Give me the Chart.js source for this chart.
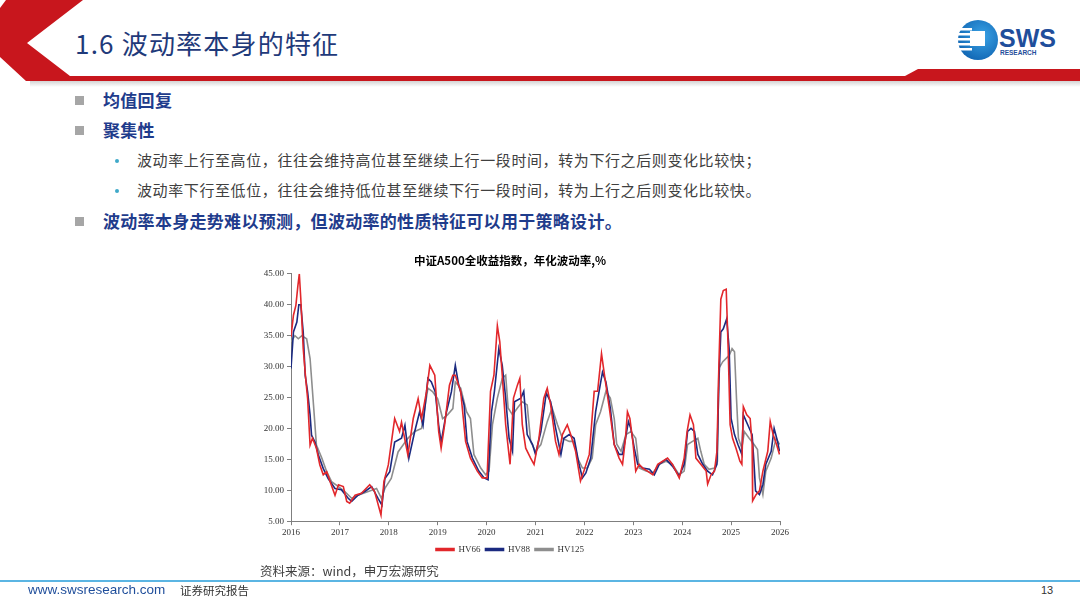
<!DOCTYPE html>
<html>
<head>
<meta charset="utf-8">
<script src="https://cdn.jsdelivr.net/npm/chart.js@4.4.1/dist/chart.umd.min.js"></script>
<style>
  html, body { margin: 0; padding: 0; background: #fff; }
  body { width: 1080px; height: 608px; position: relative; overflow: hidden; font-family: "Noto Sans CJK SC", "Noto Sans", sans-serif; }
  .abs { position: absolute; white-space: nowrap; }
  #title { left: 75px; top: 24px; font-size: 26px; color: #1F3A7A; letter-spacing: 1.2px; }
  .b1 { left: 103px; font-size: 17px; font-weight: bold; color: #1F3C8C; letter-spacing: 0.3px; }
  .sq { width: 9px; height: 9px; background: #A6A6A6; left: 75px; }
  .b2 { left: 137px; font-size: 15px; color: #404040; letter-spacing: 0.6px; }
  .dot { width: 4px; height: 4px; border-radius: 2px; background: #3FA9C9; left: 115px; }
  #chartbox { position: absolute; left: 240px; top: 248px; width: 578px; height: 316px; }
  #source { left: 260px; top: 561px; font-size: 12.5px; color: #404040; }
  #footline { left: 0; top: 580px; width: 1080px; height: 2px; background: #5BB5E3; }
  #url { left: 28px; top: 582px; font-family: "Liberation Sans", Arial, sans-serif; font-size: 13.5px; color: #1F4E9B; }
  #rep { left: 180px; top: 582px; font-size: 11.5px; color: #333; }
  #page { left: 1041px; top: 584px; font-family: "Liberation Sans", Arial, sans-serif; font-size: 11px; color: #333; }
</style>
</head>
<body>
<svg class="abs" style="left:0;top:0" width="1080" height="92">
  <defs>
    <linearGradient id="shade" x1="0" y1="0" x2="0" y2="1">
      <stop offset="0" stop-color="#d4d4d4"/>
      <stop offset="1" stop-color="#ffffff"/>
    </linearGradient>
    <radialGradient id="ball" cx="0.6" cy="0.4" r="0.7">
      <stop offset="0" stop-color="#3AA3E6"/>
      <stop offset="1" stop-color="#0E62B0"/>
    </radialGradient>
  </defs>
  <rect x="30" y="81" width="1050" height="6" fill="url(#shade)"/>
  <polygon points="0,8 6,0 83,0 27,43 70,76 1080,76 1080,81 26,81 0,57" fill="#C8161D"/>
  <polygon points="918,69 1080,69 1080,81 905,81 905,76" fill="#C8161D"/>
  <circle cx="978" cy="40" r="20" fill="url(#ball)"/>
  <rect x="958" y="28" width="14" height="2.5" fill="#fff"/>
  <rect x="958" y="33" width="14" height="2.5" fill="#fff"/>
  <rect x="958" y="38" width="14" height="2.5" fill="#fff"/>
  <rect x="958" y="43" width="14" height="2.5" fill="#fff"/>
  <rect x="958" y="48" width="14" height="2.5" fill="#fff"/>
  <rect x="970" y="31" width="15" height="15" fill="#fff"/>
  <text x="999" y="47" font-family="Liberation Sans, Arial, sans-serif" font-weight="bold" font-size="25" fill="#1F4E9B">SWS</text>
  <text x="1000" y="55" font-family="Liberation Sans, Arial, sans-serif" font-weight="bold" font-size="6.5" fill="#1F4E9B">RESEARCH</text>
</svg>
<div id="title" class="abs">1.6 波动率本身的特征</div>

<div class="abs sq" style="top:96px"></div>
<div class="abs b1" style="top:87px">均值回复</div>
<div class="abs sq" style="top:126px"></div>
<div class="abs b1" style="top:117px">聚集性</div>
<div class="abs dot" style="top:159px"></div>
<div class="abs b2" style="top:149px">波动率上行至高位，往往会维持高位甚至继续上行一段时间，转为下行之后则变化比较快；</div>
<div class="abs dot" style="top:189px"></div>
<div class="abs b2" style="top:179px">波动率下行至低位，往往会维持低位甚至继续下行一段时间，转为上行之后则变化比较快。</div>
<div class="abs sq" style="top:217px"></div>
<div class="abs b1" style="top:208px">波动率本身走势难以预测，但波动率的性质特征可以用于策略设计。</div>

<div id="chartbox"><canvas id="volchart"></canvas></div>

<div id="source" class="abs">资料来源：wind，申万宏源研究</div>
<div id="footline" class="abs"></div>
<div id="url" class="abs">www.swsresearch.com</div>
<div id="rep" class="abs">证券研究报告</div>
<div id="page" class="abs">13</div>

<script>
// 年化波动率，[年份, 数值]
const hv66 = [
  [2016.00, 34.8], [2016.05, 38.3], [2016.10, 39.9], [2016.14, 43.0], [2016.17, 45.0], [2016.20, 41.0],
  [2016.25, 32.9], [2016.30, 28.1], [2016.34, 24.8], [2016.39, 17.3], [2016.44, 18.4], [2016.52, 16.8],
  [2016.59, 14.1], [2016.66, 12.5], [2016.73, 13.0], [2016.80, 11.4], [2016.90, 9.2], [2016.97, 10.9],
  [2017.07, 10.6], [2017.14, 8.2], [2017.20, 7.9], [2017.31, 9.2], [2017.44, 9.5], [2017.61, 10.9],
  [2017.71, 9.8], [2017.84, 6.0], [2017.90, 11.4], [2017.99, 14.1], [2018.12, 21.6], [2018.22, 19.5],
  [2018.26, 21.0], [2018.39, 15.7], [2018.50, 21.6], [2018.60, 24.8], [2018.67, 21.6], [2018.77, 25.9],
  [2018.84, 30.2], [2018.94, 28.6], [2019.02, 19.5], [2019.07, 16.8], [2019.14, 20.5], [2019.24, 27.0],
  [2019.31, 28.6], [2019.36, 28.6], [2019.47, 26.0], [2019.57, 17.9], [2019.67, 15.2], [2019.81, 13.1],
  [2019.91, 12.0], [2020.01, 12.0], [2020.08, 26.0], [2020.15, 28.6], [2020.22, 36.6], [2020.27, 34.0],
  [2020.32, 28.6], [2020.39, 20.6], [2020.48, 14.2], [2020.55, 24.9], [2020.63, 27.0], [2020.68, 28.1],
  [2020.73, 20.6], [2020.80, 16.8], [2020.90, 15.2], [2020.97, 14.2], [2021.07, 18.4], [2021.17, 24.9],
  [2021.24, 26.5], [2021.31, 23.8], [2021.41, 17.9], [2021.48, 15.8], [2021.55, 19.0], [2021.65, 20.6],
  [2021.72, 19.0], [2021.82, 16.3], [2021.92, 11.5], [2021.99, 13.1], [2022.10, 15.8], [2022.20, 26.0],
  [2022.27, 26.0], [2022.35, 32.1], [2022.42, 28.1], [2022.51, 23.3], [2022.61, 17.4], [2022.71, 15.2],
  [2022.78, 14.2], [2022.84, 18.4], [2022.88, 22.7], [2022.93, 21.6], [2022.99, 17.9], [2023.05, 13.1],
  [2023.12, 14.2], [2023.19, 13.6], [2023.29, 13.1], [2023.40, 12.5], [2023.50, 14.2], [2023.60, 14.7],
  [2023.70, 15.2], [2023.80, 14.2], [2023.94, 12.0], [2024.04, 15.2], [2024.10, 19.5], [2024.16, 22.2],
  [2024.23, 20.6], [2024.28, 15.2], [2024.38, 14.2], [2024.49, 13.1], [2024.52, 11.0], [2024.59, 12.5],
  [2024.66, 13.1], [2024.71, 16.3], [2024.75, 30.2], [2024.79, 40.9], [2024.84, 42.3], [2024.90, 42.5],
  [2024.94, 32.9], [2024.98, 20.6], [2025.03, 18.4], [2025.10, 16.8], [2025.18, 14.7], [2025.22, 14.2],
  [2025.25, 23.5], [2025.32, 22.2], [2025.39, 21.6], [2025.43, 17.4], [2025.44, 8.3], [2025.51, 9.3],
  [2025.58, 9.9], [2025.65, 13.1], [2025.75, 16.3], [2025.80, 21.1], [2025.86, 19.0], [2025.93, 17.4],
  [2025.99, 15.8]
];
const hv88 = [
  [2016.00, 29.7], [2016.05, 35.6], [2016.12, 37.2], [2016.16, 40.0], [2016.20, 40.0], [2016.25, 35.6],
  [2016.29, 28.6], [2016.34, 25.9], [2016.39, 22.2], [2016.42, 18.9], [2016.49, 17.8], [2016.56, 15.7],
  [2016.66, 13.5], [2016.76, 11.9], [2016.90, 10.3], [2017.03, 10.1], [2017.17, 8.7], [2017.24, 8.2],
  [2017.37, 9.2], [2017.51, 9.8], [2017.65, 10.6], [2017.78, 8.7], [2017.86, 7.6], [2017.92, 11.9],
  [2018.02, 13.0], [2018.12, 17.8], [2018.26, 18.4], [2018.33, 20.5], [2018.41, 15.2], [2018.53, 19.5],
  [2018.63, 22.7], [2018.70, 20.5], [2018.80, 28.1], [2018.87, 27.5], [2018.95, 25.9], [2019.02, 20.5],
  [2019.07, 17.8], [2019.18, 22.7], [2019.28, 25.9], [2019.36, 30.2], [2019.43, 27.0], [2019.54, 23.8],
  [2019.60, 17.9], [2019.71, 15.2], [2019.84, 13.1], [2019.95, 12.0], [2020.03, 11.7], [2020.10, 22.7],
  [2020.16, 26.0], [2020.25, 32.9], [2020.32, 30.2], [2020.39, 24.9], [2020.46, 18.4], [2020.53, 16.3],
  [2020.57, 24.3], [2020.70, 24.9], [2020.76, 26.0], [2020.83, 19.0], [2020.94, 17.4], [2021.00, 15.8],
  [2021.11, 19.5], [2021.22, 25.7], [2021.31, 24.3], [2021.41, 20.1], [2021.52, 15.8], [2021.58, 18.4],
  [2021.69, 19.0], [2021.79, 18.4], [2021.89, 14.2], [2021.96, 12.0], [2022.03, 12.8], [2022.13, 15.2],
  [2022.23, 22.7], [2022.30, 26.0], [2022.37, 29.1], [2022.44, 27.5], [2022.53, 23.3], [2022.61, 17.4],
  [2022.71, 15.8], [2022.78, 15.8], [2022.84, 18.4], [2022.90, 21.1], [2022.95, 20.0], [2023.02, 16.8],
  [2023.09, 14.2], [2023.19, 13.6], [2023.33, 13.4], [2023.43, 12.5], [2023.53, 14.2], [2023.67, 15.0],
  [2023.80, 13.9], [2023.94, 12.3], [2024.04, 14.2], [2024.11, 19.5], [2024.18, 20.0], [2024.25, 19.5],
  [2024.32, 15.8], [2024.42, 14.2], [2024.52, 13.1], [2024.62, 12.5], [2024.71, 14.2], [2024.75, 27.5],
  [2024.79, 35.6], [2024.84, 36.1], [2024.91, 37.7], [2024.96, 32.9], [2025.00, 21.6], [2025.07, 19.0],
  [2025.14, 17.4], [2025.22, 15.8], [2025.25, 22.2], [2025.34, 20.6], [2025.43, 19.0], [2025.47, 14.2],
  [2025.50, 9.9], [2025.58, 9.3], [2025.65, 10.9], [2025.71, 14.2], [2025.82, 16.3], [2025.88, 20.0],
  [2025.95, 17.9], [2025.99, 16.3]
];
const hv125 = [
  [2016.00, 34.0], [2016.08, 35.0], [2016.15, 34.5], [2016.22, 35.0], [2016.32, 34.5], [2016.39, 31.3],
  [2016.46, 23.8], [2016.52, 17.3], [2016.63, 15.2], [2016.73, 13.0], [2016.83, 11.4], [2016.97, 10.6],
  [2017.10, 9.8], [2017.24, 8.7], [2017.37, 9.2], [2017.58, 9.8], [2017.75, 10.3], [2017.85, 8.7],
  [2017.92, 10.3], [2018.05, 11.9], [2018.19, 16.2], [2018.39, 18.4], [2018.53, 19.5], [2018.67, 20.0],
  [2018.80, 26.5], [2018.90, 25.9], [2019.00, 24.8], [2019.10, 21.6], [2019.20, 22.2], [2019.31, 23.2],
  [2019.36, 27.5], [2019.47, 26.5], [2019.59, 22.7], [2019.67, 21.6], [2019.74, 15.8], [2019.88, 13.6],
  [2019.98, 12.5], [2020.05, 13.1], [2020.12, 20.6], [2020.22, 24.9], [2020.32, 28.1], [2020.39, 28.6],
  [2020.44, 23.3], [2020.53, 22.2], [2020.63, 23.3], [2020.73, 24.3], [2020.83, 23.8], [2020.90, 17.9],
  [2021.00, 16.3], [2021.11, 17.4], [2021.24, 21.1], [2021.34, 23.3], [2021.45, 20.6], [2021.55, 18.4],
  [2021.69, 17.9], [2021.79, 17.9], [2021.86, 15.2], [2021.96, 13.6], [2022.06, 13.6], [2022.16, 15.2],
  [2022.23, 20.6], [2022.33, 22.7], [2022.44, 26.0], [2022.53, 24.9], [2022.61, 21.6], [2022.66, 17.5],
  [2022.75, 16.3], [2022.85, 19.0], [2022.95, 19.5], [2023.05, 18.4], [2023.12, 13.6], [2023.26, 13.1],
  [2023.40, 12.8], [2023.53, 14.2], [2023.67, 14.7], [2023.80, 14.2], [2023.94, 12.5], [2024.04, 13.1],
  [2024.11, 17.4], [2024.21, 17.9], [2024.32, 18.4], [2024.38, 16.3], [2024.45, 14.2], [2024.55, 13.4],
  [2024.66, 13.6], [2024.72, 14.7], [2024.75, 29.7], [2024.83, 30.8], [2024.96, 31.8], [2025.02, 32.9],
  [2025.07, 32.4], [2025.11, 24.9], [2025.15, 18.4], [2025.22, 16.8], [2025.27, 19.5], [2025.37, 18.4],
  [2025.47, 17.4], [2025.54, 16.6], [2025.58, 12.0], [2025.65, 9.3], [2025.71, 13.1], [2025.82, 15.2],
  [2025.92, 18.4], [2025.99, 17.4]
];
const seriesNames = ["HV66", "HV88", "HV125"];
const seriesColors = ["#E2272B", "#1B2A80", "#8E8E8E"];
const yearTicks = [2016, 2017, 2018, 2019, 2020, 2021, 2022, 2023, 2024, 2025, 2026];

function toPoints(arr) {
    return arr.map(function (p) { return { x: p[0], y: p[1] }; });
}

const serif = "'Liberation Serif', 'Times New Roman', serif";
const allSeries = [hv66, hv88, hv125];
const datasets = allSeries.map(function (s, i) {
    return {
        label: seriesNames[i],
        data: toPoints(s),
        borderColor: seriesColors[i],
        backgroundColor: seriesColors[i],
        borderWidth: 1.6,
        pointRadius: 0,
        tension: 0,
        fill: false
    };
});

var ctx = document.getElementById('volchart').getContext('2d');
var volChart = new Chart(ctx, {
    type: 'line',
    data: { datasets: datasets },
    options: {
        responsive: true,
        maintainAspectRatio: false,
        animation: false,
        layout: { padding: { left: 0, right: 38, top: 0, bottom: 0 } },
        plugins: {
            title: {
                display: true,
                text: '中证A500全收益指数，年化波动率,%',
                color: '#000',
                font: { family: "'Noto Sans CJK SC', sans-serif", size: 11.5, weight: 'bold' },
                padding: { top: 6, bottom: 6 }
            },
            legend: {
                display: true,
                position: 'bottom',
                labels: {
                    boxWidth: 18,
                    boxHeight: 2,
                    color: '#333',
                    font: { family: serif, size: 9 },
                    padding: 5
                }
            },
            tooltip: { enabled: false }
        },
        scales: {
            x: {
                type: 'linear',
                min: 2016,
                max: 2026,
                afterBuildTicks: function (axis) {
                    axis.ticks = yearTicks.map(function (v) { return { value: v }; });
                },
                ticks: {
                    color: '#333',
                    font: { family: serif, size: 9 },
                    maxRotation: 0,
                    autoSkip: false,
                    padding: 2,
                    callback: function (v) { return String(v); }
                },
                grid: { display: true, drawOnChartArea: false, drawTicks: true, tickLength: 4, color: '#7f7f7f' },
                border: { display: true, color: '#7f7f7f', width: 1 }
            },
            y: {
                min: 5,
                max: 45,
                afterFit: function (axis) { axis.width = 51; },
                ticks: {
                    stepSize: 5,
                    color: '#333',
                    font: { family: serif, size: 9 },
                    padding: 3,
                    callback: function (v) { return v.toFixed(2); }
                },
                grid: { display: true, drawOnChartArea: false, drawTicks: true, tickLength: 4, color: '#7f7f7f' },
                border: { display: true, color: '#7f7f7f', width: 1 }
            }
        }
    }
});
</script>
</body>
</html>
